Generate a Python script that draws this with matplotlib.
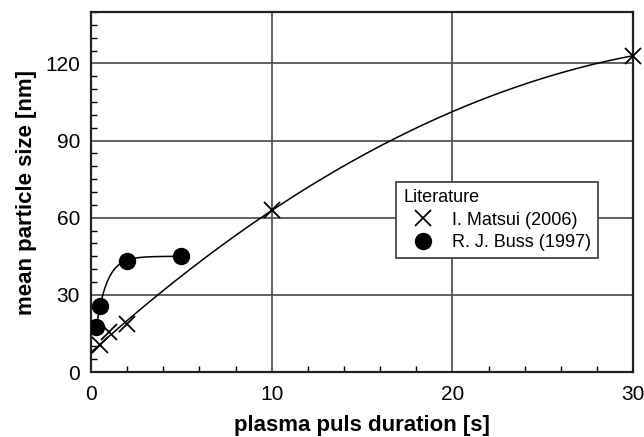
import numpy as np
import matplotlib
matplotlib.use("Agg")
from matplotlib import pyplot as plt
from matplotlib.ticker import MultipleLocator

plt.rcParams["font.family"] = ["Liberation Sans", "DejaVu Sans"]

# Literature data
matsui_t = [0.5, 1.0, 2.0, 10.0, 30.0]
matsui_d = [10.5, 15.5, 18.5, 63.0, 123.0]

buss_t = [0.3, 0.5, 2.0, 5.0]
buss_d = [17.4, 25.7, 43.2, 45.2]

# Fit curves through the data (quadratic for Matsui, saturating exponential for Buss)
mx, my = np.array(matsui_t), np.array(matsui_d)
pm = np.polyfit(mx, my, 2)
tm = np.linspace(0, 30, 300)

bx, by = np.array(buss_t), np.array(buss_d)
best = None
for tau in np.linspace(0.1, 3, 300):
    A = np.column_stack([np.ones_like(bx), np.exp(-bx / tau)])
    coef, res, *_ = np.linalg.lstsq(A, by, rcond=None)
    err = np.sum((A @ coef - by) ** 2)
    if best is None or err < best[0]:
        best = (err, tau, coef)
_, tau, coef = best
tb = np.linspace(bx.min(), bx.max(), 200)

fig = plt.figure(figsize=(6.44, 4.37), dpi=100)
ax = fig.add_axes([0.1413, 0.1487, 0.8417, 0.8238])

ax.plot(tm, np.polyval(pm, tm), color="black", lw=1.1, zorder=3)
ax.plot(tb, coef[0] + coef[1] * np.exp(-tb / tau), color="black", lw=1.1, zorder=3)

ax.plot(matsui_t, matsui_d, ls="none", marker="x", ms=11, mew=1.3,
        color="black", label="I. Matsui (2006)", zorder=4, clip_on=False)
ax.plot(buss_t, buss_d, ls="none", marker="o", ms=11.5,
        color="black", label="R. J. Buss (1997)", zorder=4)

ax.set_xlim(0, 30)
ax.set_ylim(0, 140)
ax.set_xticks([0, 10, 20, 30])
ax.set_yticks([0, 30, 60, 90, 120])
ax.xaxis.set_minor_locator(MultipleLocator(2))
ax.yaxis.set_minor_locator(MultipleLocator(5))
ax.tick_params(which="both", direction="in", top=False, right=False)
ax.tick_params(which="major", length=0, labelsize=15)
ax.tick_params(axis="x", which="major", pad=9)
ax.tick_params(axis="y", which="major", pad=8)
ax.tick_params(which="minor", length=4, width=1)
ax.grid(True, which="major", color="#555555", lw=1.3)
for s in ax.spines.values():
    s.set_linewidth(1.6)
    s.set_color("#222222")

ax.set_xlabel("plasma puls duration [s]", fontsize=16, fontweight="bold", labelpad=8)
ax.set_ylabel("mean particle size [nm]", fontsize=16, fontweight="bold", labelpad=6)

leg = ax.legend(title="Literature", loc="upper left", bbox_to_anchor=(0.563, 0.528),
                fontsize=13, title_fontsize=13, fancybox=False, framealpha=1,
                edgecolor="#444444", borderpad=0.4, handletextpad=0.5,
                labelspacing=0.3, handlelength=2.2, borderaxespad=0)
leg._legend_box.align = "left"
leg.get_frame().set_linewidth(1.3)

fig.savefig("out.png", dpi=100)
